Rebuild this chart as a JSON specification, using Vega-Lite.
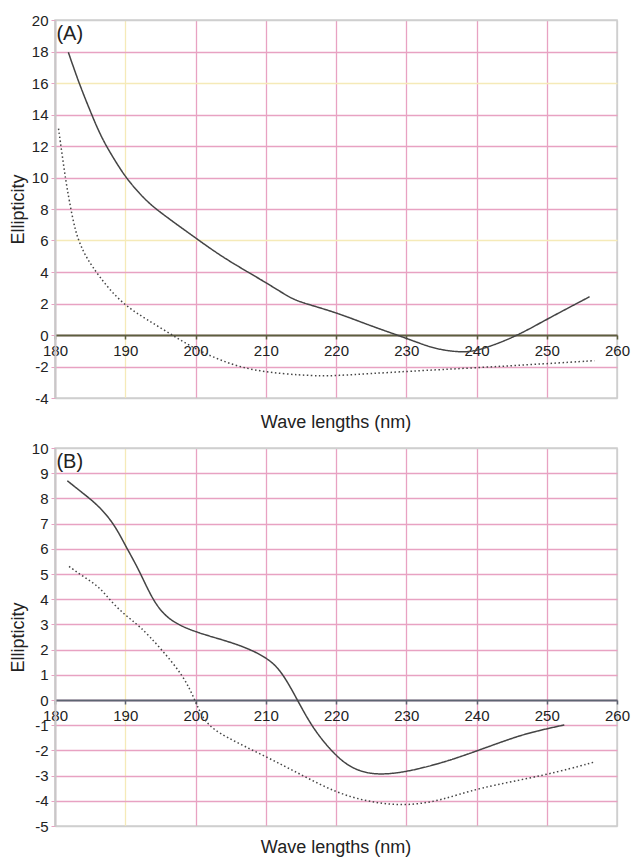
{
  "$schema": "https://vega.github.io/schema/vega-lite/v6.json",
  "background": "white",
  "padding": {"left": 8, "top": 12, "right": 3, "bottom": 0},
  "config": {
    "font": "Liberation Sans",
    "view": {"stroke": "#cfcfcf", "strokeWidth": 1.5},
    "concat": {"spacing": 7}
  },
  "vconcat": [
    {
      "width": 562,
      "height": 378,
      "title": {"text": "Wave lengths (nm)", "orient": "bottom", "fontSize": 18, "fontWeight": "normal", "color": "#222", "offset": 8},
      "layer": [
        {
          "data": {"values": [
            {"x": 181.9, "y": 17.95, "s": "solid"}, {"x": 183.4, "y": 16.0, "s": "solid"}, {"x": 185.3, "y": 13.9, "s": "solid"},
            {"x": 186.7, "y": 12.45, "s": "solid"}, {"x": 188.5, "y": 11.1, "s": "solid"}, {"x": 190.1, "y": 9.97, "s": "solid"},
            {"x": 192.7, "y": 8.63, "s": "solid"}, {"x": 194.9, "y": 7.8, "s": "solid"}, {"x": 199.9, "y": 6.2, "s": "solid"},
            {"x": 204.1, "y": 4.85, "s": "solid"}, {"x": 210.0, "y": 3.35, "s": "solid"}, {"x": 213.3, "y": 2.4, "s": "solid"},
            {"x": 215.0, "y": 2.07, "s": "solid"}, {"x": 220.0, "y": 1.44, "s": "solid"}, {"x": 224.8, "y": 0.6, "s": "solid"},
            {"x": 230.0, "y": -0.2, "s": "solid"}, {"x": 233.2, "y": -0.75, "s": "solid"}, {"x": 235.5, "y": -0.98, "s": "solid"},
            {"x": 238.0, "y": -1.1, "s": "solid"}, {"x": 240.0, "y": -1.0, "s": "solid"}, {"x": 242.4, "y": -0.65, "s": "solid"},
            {"x": 246.0, "y": 0.0, "s": "solid"}, {"x": 250.0, "y": 1.0, "s": "solid"}, {"x": 256.1, "y": 2.43, "s": "solid"},
            {"x": 180.5, "y": 13.1, "s": "dotted"}, {"x": 181.0, "y": 11.5, "s": "dotted"}, {"x": 181.5, "y": 9.9, "s": "dotted"},
            {"x": 182.0, "y": 8.6, "s": "dotted"}, {"x": 182.9, "y": 6.5, "s": "dotted"}, {"x": 184.0, "y": 5.3, "s": "dotted"},
            {"x": 185.2, "y": 4.4, "s": "dotted"}, {"x": 187.5, "y": 3.0, "s": "dotted"}, {"x": 190.0, "y": 1.86, "s": "dotted"},
            {"x": 193.0, "y": 1.0, "s": "dotted"}, {"x": 196.7, "y": 0.0, "s": "dotted"}, {"x": 199.9, "y": -0.89, "s": "dotted"},
            {"x": 205.3, "y": -1.95, "s": "dotted"}, {"x": 210.0, "y": -2.37, "s": "dotted"}, {"x": 215.0, "y": -2.55, "s": "dotted"},
            {"x": 218.0, "y": -2.6, "s": "dotted"}, {"x": 220.0, "y": -2.58, "s": "dotted"}, {"x": 225.0, "y": -2.45, "s": "dotted"},
            {"x": 230.0, "y": -2.31, "s": "dotted"}, {"x": 240.0, "y": -2.08, "s": "dotted"}, {"x": 250.0, "y": -1.82, "s": "dotted"},
            {"x": 256.8, "y": -1.63, "s": "dotted"}
          ]},
          "mark": {"type": "line", "interpolate": "basis", "color": "#444444", "strokeWidth": 1.5},
          "encoding": {
            "x": {"field": "x", "type": "quantitative",
              "scale": {"domain": [180, 260], "nice": false, "zero": false},
              "axis": {"title": null, "values": [180, 190, 200, 210, 220, 230, 240, 250, 260], "offset": -63,
                "domainColor": "#5c5f3f", "domainWidth": 2, "tickColor": "#5c5f3f", "tickSize": 4, "tickWidth": 1.5,
                "labelFontSize": 15, "labelColor": "#222", "labelPadding": 4, "labelFlush": false, "labelOverlap": false,
                "grid": true, "gridWidth": 1.3,
                "gridColor": {"condition": [{"test": "datum.value === 190", "value": "#f5eab8"}, {"test": "datum.value === 260", "value": "#cfcfcf"}], "value": "#e8a2c2"}}},
            "y": {"field": "y", "type": "quantitative",
              "scale": {"domain": [-4, 20], "nice": false, "zero": false},
              "axis": {"title": "Ellipticity", "titleFontSize": 18, "titleFontWeight": "normal", "titleColor": "#222", "titlePadding": 4,
                "values": [-4, -2, 0, 2, 4, 6, 8, 10, 12, 14, 16, 18, 20], "labelExpr": "'' + datum.value",
                "domainColor": "#c8c8c8", "domainWidth": 2, "tickColor": "#e8a2c2", "tickSize": 4,
                "labelFontSize": 15, "labelColor": "#222", "labelPadding": 3, "labelOverlap": false, "labelBound": false,
                "grid": true, "gridWidth": 1.3,
                "gridColor": {"condition": [{"test": "datum.value === 16 || datum.value === 6", "value": "#f5eab8"}, {"test": "datum.value === 20 || datum.value === -4", "value": "#cfcfcf"}], "value": "#e8a2c2"}}},
            "strokeDash": {"field": "s", "type": "nominal", "scale": {"domain": ["solid", "dotted"], "range": [[1, 0], [1.5, 2.5]]}, "legend": null}
          }
        },
        {
          "data": {"values": [{"x": 180.2, "y": 20, "label": "(A)"}]},
          "mark": {"type": "text", "align": "left", "baseline": "top", "dy": 4, "fontSize": 20, "color": "#222"},
          "encoding": {
            "x": {"field": "x", "type": "quantitative"},
            "y": {"field": "y", "type": "quantitative", "axis": {"labelOverlap": false, "values": [-4, -2, 0, 2, 4, 6, 8, 10, 12, 14, 16, 18, 20]}},
            "text": {"field": "label"}
          }
        }
      ]
    },
    {
      "width": 562,
      "height": 378,
      "title": {"text": "Wave lengths (nm)", "orient": "bottom", "fontSize": 18, "fontWeight": "normal", "color": "#222", "offset": 5},
      "layer": [
        {
          "data": {"values": [
            {"x": 181.75, "y": 8.7, "s": "solid"}, {"x": 184.0, "y": 8.2, "s": "solid"}, {"x": 186.3, "y": 7.69, "s": "solid"},
            {"x": 188.5, "y": 6.95, "s": "solid"}, {"x": 190.06, "y": 6.1, "s": "solid"}, {"x": 191.96, "y": 5.17, "s": "solid"},
            {"x": 193.85, "y": 3.98, "s": "solid"}, {"x": 196.1, "y": 3.16, "s": "solid"}, {"x": 199.9, "y": 2.7, "s": "solid"},
            {"x": 204.1, "y": 2.37, "s": "solid"}, {"x": 207.0, "y": 2.1, "s": "solid"}, {"x": 210.0, "y": 1.71, "s": "solid"},
            {"x": 212.2, "y": 1.18, "s": "solid"}, {"x": 214.5, "y": 0.0, "s": "solid"}, {"x": 216.8, "y": -1.18, "s": "solid"},
            {"x": 220.0, "y": -2.24, "s": "solid"}, {"x": 222.5, "y": -2.76, "s": "solid"}, {"x": 225.7, "y": -2.99, "s": "solid"},
            {"x": 230.0, "y": -2.86, "s": "solid"}, {"x": 235.1, "y": -2.5, "s": "solid"}, {"x": 240.0, "y": -2.03, "s": "solid"},
            {"x": 246.1, "y": -1.4, "s": "solid"}, {"x": 250.0, "y": -1.14, "s": "solid"}, {"x": 252.5, "y": -0.99, "s": "solid"},
            {"x": 182.0, "y": 5.3, "s": "dotted"}, {"x": 184.0, "y": 4.9, "s": "dotted"}, {"x": 186.3, "y": 4.5, "s": "dotted"},
            {"x": 188.0, "y": 3.9, "s": "dotted"}, {"x": 190.0, "y": 3.36, "s": "dotted"}, {"x": 192.0, "y": 2.95, "s": "dotted"},
            {"x": 194.9, "y": 2.1, "s": "dotted"}, {"x": 198.4, "y": 0.92, "s": "dotted"}, {"x": 199.9, "y": 0.0, "s": "dotted"},
            {"x": 201.3, "y": -0.92, "s": "dotted"}, {"x": 204.1, "y": -1.45, "s": "dotted"}, {"x": 210.0, "y": -2.24, "s": "dotted"},
            {"x": 215.0, "y": -2.96, "s": "dotted"}, {"x": 220.0, "y": -3.68, "s": "dotted"}, {"x": 224.8, "y": -4.06, "s": "dotted"},
            {"x": 230.0, "y": -4.21, "s": "dotted"}, {"x": 235.1, "y": -3.98, "s": "dotted"}, {"x": 240.0, "y": -3.5, "s": "dotted"},
            {"x": 250.0, "y": -2.98, "s": "dotted"}, {"x": 256.8, "y": -2.46, "s": "dotted"}
          ]},
          "mark": {"type": "line", "interpolate": "basis", "color": "#444444", "strokeWidth": 1.5},
          "encoding": {
            "x": {"field": "x", "type": "quantitative",
              "scale": {"domain": [180, 260], "nice": false, "zero": false},
              "axis": {"title": null, "values": [180, 190, 200, 210, 220, 230, 240, 250, 260], "offset": -126,
                "domainColor": "#5e6472", "domainWidth": 2, "tickColor": "#5e6472", "tickSize": 4, "tickWidth": 1.5,
                "labelFontSize": 15, "labelColor": "#222", "labelPadding": 4, "labelFlush": false, "labelOverlap": false,
                "grid": true, "gridWidth": 1.3,
                "gridColor": {"condition": [{"test": "datum.value === 190", "value": "#f5eab8"}, {"test": "datum.value === 260", "value": "#cfcfcf"}], "value": "#e8a2c2"}}},
            "y": {"field": "y", "type": "quantitative",
              "scale": {"domain": [-5, 10], "nice": false, "zero": false},
              "axis": {"title": "Ellipticity", "titleFontSize": 18, "titleFontWeight": "normal", "titleColor": "#222", "titlePadding": 4,
                "values": [-5, -4, -3, -2, -1, 0, 1, 2, 3, 4, 5, 6, 7, 8, 9, 10], "labelExpr": "'' + datum.value",
                "domainColor": "#c8c8c8", "domainWidth": 2, "tickColor": "#e8a2c2", "tickSize": 4,
                "labelFontSize": 15, "labelColor": "#222", "labelPadding": 3, "labelOverlap": false, "labelBound": false,
                "grid": true, "gridWidth": 1.3,
                "gridColor": {"condition": [{"test": "datum.value === 10 || datum.value === -5", "value": "#cfcfcf"}], "value": "#e8a2c2"}}},
            "strokeDash": {"field": "s", "type": "nominal", "scale": {"domain": ["solid", "dotted"], "range": [[1, 0], [1.5, 2.5]]}, "legend": null}
          }
        },
        {
          "data": {"values": [{"x": 180.2, "y": 10, "label": "(B)"}]},
          "mark": {"type": "text", "align": "left", "baseline": "top", "dy": 4, "fontSize": 20, "color": "#222"},
          "encoding": {
            "x": {"field": "x", "type": "quantitative"},
            "y": {"field": "y", "type": "quantitative", "axis": {"labelOverlap": false, "values": [-5, -4, -3, -2, -1, 0, 1, 2, 3, 4, 5, 6, 7, 8, 9, 10]}},
            "text": {"field": "label"}
          }
        }
      ]
    }
  ]
}
